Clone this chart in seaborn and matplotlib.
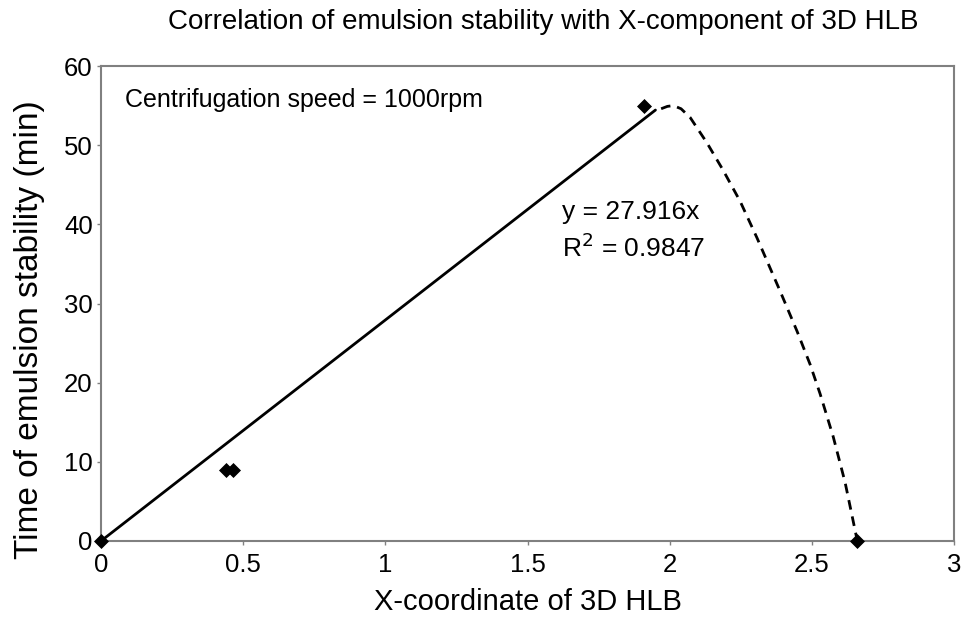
import matplotlib
matplotlib.use("Agg")
import matplotlib.pyplot as plt
import seaborn as sns
import pandas as pd

# data
point_x = [0.0, 0.44, 0.465, 1.91, 2.66]
point_y = [0.0, 9.0, 9.0, 55.0, 0.0]

trend_slope = 27.916
trend_x = [0.0, 1.95]

curve_x = [1.97, 1.992, 2.013, 2.04, 2.072, 2.131, 2.187, 2.248, 2.307, 2.388, 2.448, 2.494, 2.529, 2.575, 2.617, 2.66]
curve_y = [54.6, 54.9, 55.0, 54.6, 53.5, 50.3, 46.9, 42.9, 38.3, 31.6, 26.5, 22.3, 18.6, 13.2, 7.4, 0.0]

x_ticks = [0, 0.5, 1, 1.5, 2, 2.5, 3]
x_tick_labels = ["0", "0.5", "1", "1.5", "2", "2.5", "3"]
y_ticks = [0, 10, 20, 30, 40, 50, 60]

sns.set_style("white")
plt.rcParams['font.family'] = ['Liberation Sans', 'DejaVu Sans']
plt.rcParams['text.color'] = 'black'
plt.rcParams['axes.labelcolor'] = 'black'
plt.rcParams['xtick.color'] = 'black'
plt.rcParams['ytick.color'] = 'black'

fig = plt.figure(figsize=(9.61, 6.19), dpi=100)
ax = fig.add_axes([101/961, 1-541/619, (954-101)/961, (541-66)/619])

trend_df = pd.DataFrame({"x": trend_x, "y": [trend_slope * v for v in trend_x]})
sns.lineplot(data=trend_df, x="x", y="y", ax=ax, color="black", linewidth=2.0, sort=False)

curve_df = pd.DataFrame({"x": curve_x, "y": curve_y})
sns.lineplot(data=curve_df, x="x", y="y", ax=ax, color="black", linewidth=2.0,
             linestyle=(0, (3.5, 2.5)), sort=False)

pts = pd.DataFrame({"x": point_x, "y": point_y})
sns.scatterplot(data=pts, x="x", y="y", ax=ax, marker="D", s=50, color="black",
                edgecolor="black", zorder=5, clip_on=False)

ax.set_xlim(0, 3)
ax.set_ylim(0, 60)
ax.set_xticks(x_ticks)
ax.set_xticklabels(x_tick_labels)
ax.set_yticks(y_ticks)
ax.tick_params(axis="both", direction="out", length=3, width=1, color="#808080",
               labelcolor="black", labelsize=18.5, bottom=True, left=True)
ax.tick_params(axis="x", pad=6)
ax.tick_params(axis="y", pad=3)
for sp in ax.spines.values():
    sp.set_color("#808080")
    sp.set_linewidth(1.5)
    sp.set_visible(True)

ax.set_xlabel("X-coordinate of 3D HLB", fontsize=21, va="center", color="black")
ax.xaxis.set_label_coords(0.5, (541 - 602) / 475)
ax.set_ylabel("Time of emulsion stability (min)", fontsize=24, va="center", color="black")
ax.yaxis.set_label_coords((30 - 101) / 853, (541 - 330) / 475)

fig.text(543 / 961, 1 - 22 / 619, "Correlation of emulsion stability with X-component of 3D HLB",
         ha="center", va="center", fontsize=20, color="black")

ax.text(0.085, 55.7, "Centrifugation speed = 1000rpm", fontsize=18, va="center", ha="left", color="black")
ax.text(1.62, 41.5, "y = 27.916x", fontsize=19, va="center", ha="left", color="black")
ax.text(1.62, 37.0, "R$^{2}$ = 0.9847", fontsize=19, va="center", ha="left", color="black")

fig.savefig("out.png", dpi=100)
